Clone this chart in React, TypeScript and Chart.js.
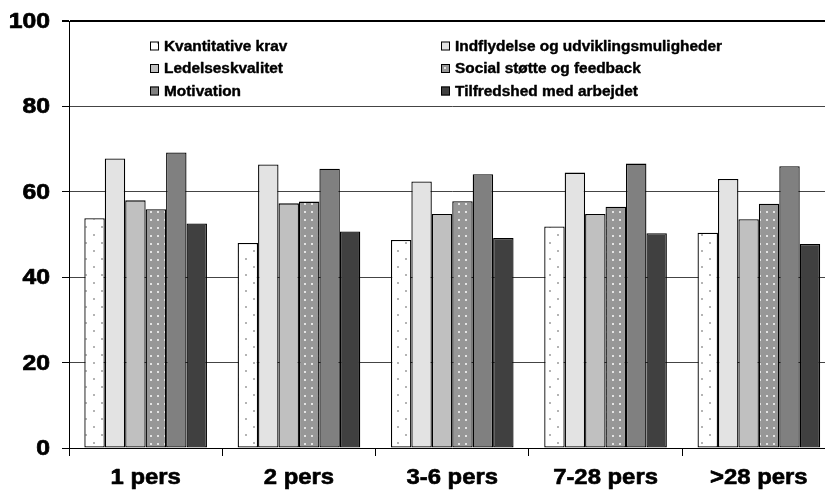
import React, { useEffect, useRef } from "react";
import { Chart, registerables } from "chart.js";

Chart.register(...registerables);

const categories = ["1 pers", "2 pers", "3-6 pers", "7-28 pers", ">28 pers"];
const seriesNames = [
  "Kvantitative krav",
  "Indflydelse og udviklingsmuligheder",
  "Ledelseskvalitet",
  "Social støtte og feedback",
  "Motivation",
  "Tilfredshed med arbejdet",
];
const kvantitativeKrav = [53.8, 48.0, 48.7, 51.9, 50.4];
const indflydelse = [67.8, 66.4, 62.4, 64.5, 63.0];
const ledelseskvalitet = [58.0, 57.3, 54.8, 54.8, 53.6];
const socialStoette = [55.9, 57.7, 57.8, 56.5, 57.2];
const motivation = [69.2, 65.4, 64.1, 66.6, 66.0];
const tilfredshed = [52.6, 50.7, 49.2, 50.3, 47.8];
const yTicks = [0, 20, 40, 60, 80, 100];

const FONT = "'Liberation Sans', Arial, sans-serif";

function dotPattern(
  bg: string,
  dot: string,
  w: number,
  h: number,
  dots: [number, number][]
): CanvasPattern | string {
  const c = document.createElement("canvas");
  c.width = w;
  c.height = h;
  const g = c.getContext("2d");
  if (!g) return bg;
  g.fillStyle = bg;
  g.fillRect(0, 0, w, h);
  g.fillStyle = dot;
  dots.forEach(([x, y]) => g.fillRect(x, y, 2, 2));
  return g.createPattern(c, "repeat") || bg;
}

// Heavy, slightly widened text, like the original Excel export
function wideText(
  ctx: CanvasRenderingContext2D,
  text: string,
  x: number,
  y: number,
  size: number,
  sx: number,
  align: CanvasTextAlign,
  baseline: CanvasTextBaseline,
  weight: number
) {
  ctx.save();
  ctx.translate(x, y);
  ctx.scale(sx, 1);
  ctx.font = `bold ${size}px ${FONT}`;
  ctx.textAlign = align;
  ctx.textBaseline = baseline;
  ctx.fillStyle = "#000";
  ctx.strokeStyle = "#000";
  ctx.lineWidth = weight;
  ctx.lineJoin = "round";
  ctx.fillText(text, 0, 0);
  ctx.strokeText(text, 0, 0);
  ctx.restore();
}

// Axis labels and a two-column legend inside the plot area
const textPlugin = {
  id: "axisTextAndLegend",
  afterDraw(chart: any) {
    const { ctx } = chart;
    const yScale = chart.scales.y;
    const xScale = chart.scales.x;
    yTicks.forEach((v) => {
      wideText(ctx, String(v), 50, yScale.getPixelForValue(v) + 1, 21.5, 1.15, "right", "middle", 0.7);
    });
    categories.forEach((c, i) => {
      wideText(ctx, c, xScale.getPixelForValue(i), 484, 21.5, 1.11, "center", "alphabetic", 0.6);
    });

    const cols = [150, 441];
    const rows = [46, 68.5, 91];
    chart.data.datasets.forEach((ds: any, i: number) => {
      const x = cols[i % 2];
      const y = rows[Math.floor(i / 2)];
      ctx.save();
      ctx.fillStyle = ds.backgroundColor;
      ctx.fillRect(x, y - 4.5, 9, 9);
      ctx.strokeStyle = "#000";
      ctx.lineWidth = 1;
      ctx.strokeRect(x + 0.5, y - 4, 8, 8);
      ctx.restore();
      wideText(ctx, ds.label, x + 14, y + 1, 14, 1.1, "left", "middle", 0.4);
    });
  },
};

export default function App() {
  const ref = useRef<HTMLCanvasElement | null>(null);

  useEffect(() => {
    if (!ref.current) return;
    const fills = [
      dotPattern("#ffffff", "#b4b4b4", 16, 16, [[5, 2], [13, 10]]),
      "#e3e3e3",
      "#c0c0c0",
      dotPattern("#979797", "#e4e4e4", 7, 8, [[3, 3]]),
      "#808080",
      "#404040",
    ];
    const values = [
      kvantitativeKrav,
      indflydelse,
      ledelseskvalitet,
      socialStoette,
      motivation,
      tilfredshed,
    ];
    const chart = new Chart(ref.current, {
      type: "bar",
      data: {
        labels: categories,
        datasets: values.map((v, i) => ({
          label: seriesNames[i],
          data: v,
          backgroundColor: fills[i] as any,
          borderColor: "#000",
          borderWidth: 1.3,
          borderSkipped: false,
          categoryPercentage: 0.8,
          barPercentage: 1,
        })),
      },
      options: {
        responsive: false,
        animation: false,
        devicePixelRatio: 1,
        layout: { padding: { top: 21, right: 14.5, left: 0, bottom: 0 } },
        plugins: {
          legend: { display: false },
          tooltip: { enabled: false },
        },
        scales: {
          x: {
            offset: true,
            grid: {
              offset: true,
              drawOnChartArea: false,
              drawTicks: true,
              tickLength: 8,
              color: "#000",
            },
            border: { display: true, color: "#000", width: 1 },
            ticks: { display: false },
            afterFit(scale: any) {
              scale.height = 50;
            },
          },
          y: {
            min: 0,
            max: 100,
            afterBuildTicks(scale: any) {
              scale.ticks = yTicks.map((v) => ({ value: v }));
            },
            grid: {
              color: (c: any) => (c.tick && c.tick.value === 100 ? "#000" : "#444"),
              lineWidth: (c: any) => (c.tick && c.tick.value === 100 ? 2 : 1),
              tickColor: "#000",
              tickLength: 7,
            },
            border: { display: true, color: "#000", width: 1 },
            ticks: { display: false },
            afterFit(scale: any) {
              scale.width = 69;
            },
          },
        },
      },
      plugins: [textPlugin],
    });
    return () => chart.destroy();
  }, []);

  return (
    <div
      style={{
        position: "fixed",
        left: 0,
        top: 0,
        width: 825,
        height: 498,
        overflow: "hidden",
        background: "#fff",
      }}
    >
      <canvas ref={ref} width={850} height={498} style={{ width: 850, height: 498 }} />
    </div>
  );
}
